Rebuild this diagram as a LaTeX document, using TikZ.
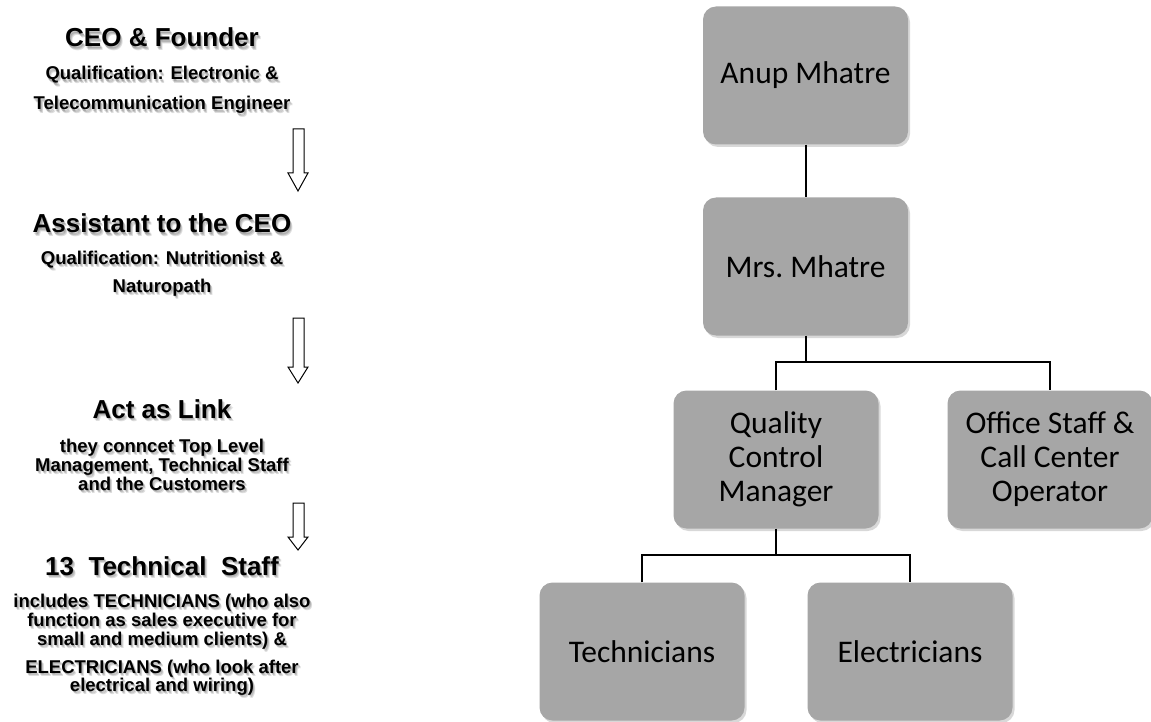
\documentclass[tikz,border=0pt]{standalone}
\usepackage{fontspec}
\newfontfamily\boxfont{Carlito}
\newfontfamily\notefont{Liberation Sans}
\usetikzlibrary{shadows}
\definecolor{boxgray}{HTML}{A6A6A6}

\tikzset{
  orgbox/.style={fill=boxgray, rounded corners=13pt, minimum width=205pt,
    minimum height=138pt, inner sep=0pt, align=center,
    font=\boxfont\fontsize{31.5}{34}\selectfont,
    drop shadow={shadow xshift=2pt, shadow yshift=-2.5pt, opacity=0.3}},
  link/.style={line width=2pt, black},
  heading/.style={anchor=base, font=\notefont\bfseries\fontsize{26}{30}\selectfont},
  note/.style={anchor=base, font=\notefont\bfseries\fontsize{18.5}{20}\selectfont},
  blockarrow/.style={draw=black, line width=1pt, fill=white, line join=miter},
}

% one centred line of the left-hand column, with a soft grey shadow
\newcommand\colline[4]{%
  \foreach \dx/\dy/\k in {0.8/1.4/a, 1.6/2.4/b, 2.4/3.4/c}
    {\node[#3, text=black, opacity=0.13] (#1-\k) at (162+\dx, #2+\dy) {#4};}
  \node[#3] (#1) at (162, #2) {#4};
}

\begin{document}
\begin{tikzpicture}[x=1pt, y=-1pt]
\fill[white] (0,0) rectangle (1151,722);
\useasboundingbox (0,0) rectangle (1151,722);

% ---- left column: description of the levels
\colline{h1}{47}{heading}{CEO \& Founder}
\colline{h1a}{80}{note}{Qualification: Electronic \&}
\colline{h1b}{110}{note}{Telecommunication Engineer}

\colline{h2}{233}{heading}{Assistant to the CEO}
\colline{h2a}{264}{note}{Qualification: Nutritionist \&}
\colline{h2b}{292}{note}{Naturopath}

\colline{h3}{418}{heading}{Act as Link}
\colline{h3a}{452}{note}{they conncet Top Level}
\colline{h3b}{471}{note}{Management, Technical Staff}
\colline{h3c}{490}{note}{and the Customers}

\colline{h4}{575}{heading}{13\ \ Technical\ \ Staff}
\colline{h4a}{607}{note}{includes TECHNICIANS (who also}
\colline{h4b}{626}{note}{function as sales executive for}
\colline{h4c}{645}{note}{small and medium clients) \&}
\colline{h4d}{673}{note}{ELECTRICIANS (who look after}
\colline{h4e}{691}{note}{electrical and wiring)}

% ---- hollow down arrows between the levels
\foreach \top/\neck/\tip in {129/173/191, 318/367/383, 503/537/550}
  \draw[blockarrow] (293,\top) -- (304,\top) -- (304,\neck) -- (308,\neck)
    -- (298,\tip) -- (288,\neck) -- (293,\neck) -- cycle;

% ---- right: organisation chart
\node[orgbox] (anup)   at (805.5, 75.5)  {Anup Mhatre};
\node[orgbox] (mrs)    at (805.5, 266.5) {Mrs.\ Mhatre};
\node[orgbox] (qc)     at (776, 459.5)   {Quality\\Control\\Manager};
\node[orgbox] (office) at (1050, 459.5)  {Office Staff \&\\Call Center\\Operator};
\node[orgbox] (tech)   at (642, 651.5)   {Technicians};
\node[orgbox] (elec)   at (910, 651.5)   {Electricians};

\coordinate (bus1) at (805.5, 362);
\coordinate (bus2) at (776, 555);

\draw[link] (anup.south) -- (mrs.north);
\draw[link] (mrs.south) -- (bus1);
\draw[link] (qc.north) |- (bus1) -| (office.north);
\draw[link] (qc.south) -- (bus2);
\draw[link] (tech.north) |- (bus2) -| (elec.north);
\end{tikzpicture}
\end{document}
